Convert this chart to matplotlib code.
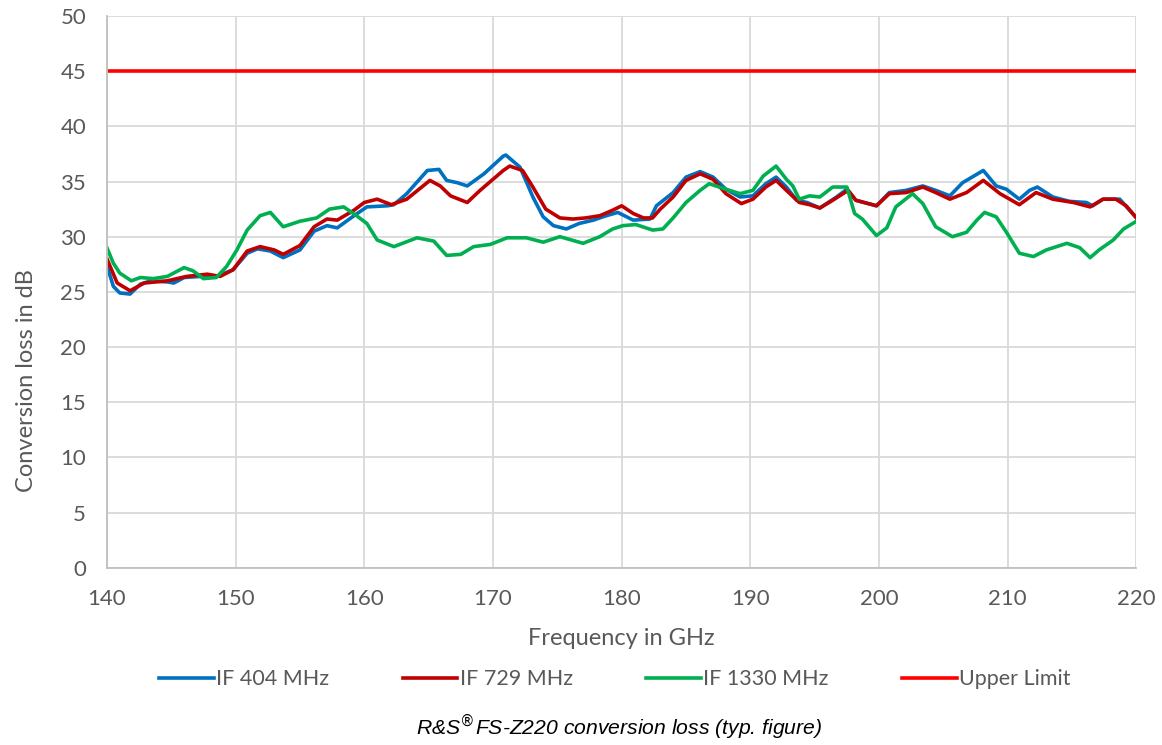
import matplotlib
matplotlib.use("Agg")
import matplotlib.pyplot as plt

plt.rcParams['font.family'] = ['Lato', 'DejaVu Sans']

# IF 404 MHz
f_404 = [140.0, 140.5, 141.0, 141.8, 142.6, 143.4, 144.7, 145.2, 146.0, 147.3, 148.5, 149.8,
         150.9, 151.7, 152.7, 153.7, 155.0, 156.1, 157.1, 157.9, 159.2, 160.2, 161.8, 162.3,
         163.3, 164.9, 165.8, 166.4, 167.2, 168.0, 169.3, 170.8, 171.0, 172.1, 173.1, 173.9,
         174.7, 175.7, 176.7, 177.8, 178.8, 179.7, 180.9, 182.2, 182.7, 184.0, 185.0, 186.1,
         187.1, 188.1, 189.2, 190.2, 191.2, 192.0, 192.8, 193.6, 194.4, 195.4, 196.7, 197.5,
         198.2, 199.8, 200.8, 202.1, 203.4, 204.4, 205.5, 206.5, 208.1, 209.1, 209.9, 210.9,
         211.7, 212.3, 213.5, 214.8, 216.1, 216.6, 217.4, 218.7, 220.0]
v_404 = [27.4, 25.5, 24.9, 24.8, 25.7, 26.0, 25.9, 25.8, 26.3, 26.4, 26.4, 27.0,
         28.5, 28.9, 28.7, 28.1, 28.8, 30.5, 31.0, 30.8, 31.9, 32.7, 32.8, 32.9,
         33.9, 36.0, 36.1, 35.1, 34.9, 34.6, 35.7, 37.3, 37.4, 36.3, 33.6, 31.8,
         31.0, 30.7, 31.2, 31.5, 31.9, 32.2, 31.5, 31.6, 32.8, 34.0, 35.4, 35.9,
         35.4, 34.3, 33.6, 33.7, 34.8, 35.4, 34.5, 33.3, 33.1, 32.6, 33.6, 34.3,
         33.3, 32.8, 34.0, 34.2, 34.6, 34.2, 33.7, 34.9, 36.0, 34.6, 34.3, 33.4,
         34.2, 34.5, 33.6, 33.2, 33.1, 32.8, 33.4, 33.4, 31.7]

# IF 729 MHz
f_729 = [140.0, 140.8, 141.8, 142.9, 144.7, 146.2, 147.8, 148.8, 149.8, 150.9, 151.9, 153.0,
         153.7, 155.0, 156.1, 157.1, 157.9, 159.2, 160.0, 161.0, 162.1, 163.3, 165.1, 165.9,
         166.7, 168.0, 169.0, 170.8, 171.3, 172.3, 173.1, 174.1, 175.2, 176.2, 177.2, 178.3,
         179.3, 180.0, 180.9, 181.7, 182.4, 183.0, 184.0, 185.0, 186.1, 187.1, 188.1, 189.3,
         190.2, 191.2, 192.0, 192.8, 193.8, 194.6, 195.4, 196.4, 197.6, 198.2, 199.8, 200.8,
         202.1, 203.4, 204.4, 205.5, 206.8, 208.1, 209.4, 210.9, 212.2, 213.5, 215.1, 216.4,
         217.4, 218.4, 219.2, 220.0]
v_729 = [28.0, 25.8, 25.1, 25.8, 26.0, 26.4, 26.6, 26.4, 27.0, 28.7, 29.1, 28.8,
         28.4, 29.2, 30.9, 31.6, 31.5, 32.4, 33.1, 33.4, 32.9, 33.4, 35.1, 34.6,
         33.7, 33.1, 34.2, 36.0, 36.4, 36.0, 34.5, 32.5, 31.7, 31.6, 31.7, 31.9,
         32.4, 32.8, 32.1, 31.7, 31.7, 32.5, 33.6, 35.1, 35.7, 35.2, 33.9, 33.0,
         33.4, 34.5, 35.1, 34.2, 33.1, 32.9, 32.6, 33.3, 34.2, 33.3, 32.8, 33.9,
         34.0, 34.5, 34.0, 33.4, 34.0, 35.1, 33.9, 32.9, 34.0, 33.4, 33.1, 32.7,
         33.4, 33.4, 32.8, 31.7]

# IF 1330 MHz
f_1330 = [140.0, 140.5, 141.0, 141.9, 142.6, 143.6, 144.7, 146.0, 146.7, 147.5, 148.5, 149.3,
          150.1, 150.9, 151.9, 152.7, 153.7, 155.0, 156.3, 157.3, 158.4, 159.4, 160.2, 161.0,
          162.3, 164.1, 165.4, 166.4, 167.5, 168.5, 169.8, 171.1, 171.3, 172.6, 173.9, 175.2,
          177.0, 178.3, 179.3, 180.1, 181.1, 182.4, 183.2, 184.0, 185.0, 186.1, 186.8, 188.1,
          189.2, 190.2, 191.0, 192.0, 192.8, 193.3, 193.8, 194.6, 195.4, 196.4, 197.5, 198.1,
          198.7, 199.8, 200.6, 201.3, 202.6, 203.4, 204.4, 205.7, 206.8, 207.6, 208.2, 209.1,
          209.9, 210.9, 212.0, 213.0, 214.6, 215.6, 216.4, 217.1, 218.2, 219.0, 220.0]
v_1330 = [29.0, 27.6, 26.7, 26.0, 26.3, 26.2, 26.4, 27.2, 26.9, 26.2, 26.3, 27.3,
          28.8, 30.6, 31.9, 32.2, 30.9, 31.4, 31.7, 32.5, 32.7, 31.9, 31.2, 29.7,
          29.1, 29.9, 29.6, 28.3, 28.4, 29.1, 29.3, 29.9, 29.9, 29.9, 29.5, 30.0,
          29.4, 30.0, 30.7, 31.0, 31.1, 30.6, 30.7, 31.7, 33.1, 34.2, 34.8, 34.3,
          33.9, 34.2, 35.5, 36.4, 35.2, 34.6, 33.4, 33.7, 33.6, 34.5, 34.5, 32.1,
          31.6, 30.1, 30.8, 32.7, 33.9, 33.0, 30.9, 30.0, 30.4, 31.5, 32.2, 31.8,
          30.4, 28.5, 28.2, 28.8, 29.4, 29.0, 28.1, 28.8, 29.7, 30.7, 31.4]

upper_f = [140, 220]
upper_v = [45, 45]

fig = plt.figure(figsize=(11.62, 7.45), dpi=100)
ax = fig.add_axes([0.092, 0.238, 0.886, 0.7405])

ax.plot(f_404, v_404, color='#0070C0', lw=2.6, label='IF 404 MHz')
ax.plot(f_729, v_729, color='#C00000', lw=2.6, label='IF 729 MHz')
ax.plot(f_1330, v_1330, color='#00B050', lw=2.6, label='IF 1330 MHz')
ax.plot(upper_f, upper_v, color='#FF0000', lw=2.6, label='Upper Limit')

ax.set_xlim(140, 220)
ax.set_ylim(0, 50)
ax.set_xticks(range(140, 221, 10))
ax.set_yticks(range(0, 51, 5))
ax.grid(True, color='#D9D9D9', lw=1.3)
ax.set_axisbelow(True)
for s in ['top', 'right']:
    ax.spines[s].set_visible(False)
for s in ['left', 'bottom']:
    ax.spines[s].set_color('#BFBFBF')
    ax.spines[s].set_linewidth(1.3)
ax.tick_params(length=0, labelsize=16, colors='#595959')
ax.tick_params(axis='x', pad=15)
ax.tick_params(axis='y', pad=15)

ax.set_xlabel('Frequency in GHz', fontsize=17, color='#595959', labelpad=14)
ax.set_ylabel('Conversion loss in dB', fontsize=17, color='#595959', labelpad=17)
ax.yaxis.label.set_y(0.34)

leg = fig.legend(loc='center', bbox_to_anchor=(0.529, 0.088), ncol=4, frameon=False,
                 fontsize=15.5, handlelength=2.55, handletextpad=0.1, columnspacing=3.4)
for t in leg.get_texts():
    t.set_color('#595959')

fig.text(0.533, 0.024, r'R&S$^{\circledR}$FS-Z220 conversion loss (typ. figure)',
         ha='center', va='center', fontsize=15.2, style='italic', color='black',
         family='Liberation Sans')

fig.savefig('out.png', dpi=100)
